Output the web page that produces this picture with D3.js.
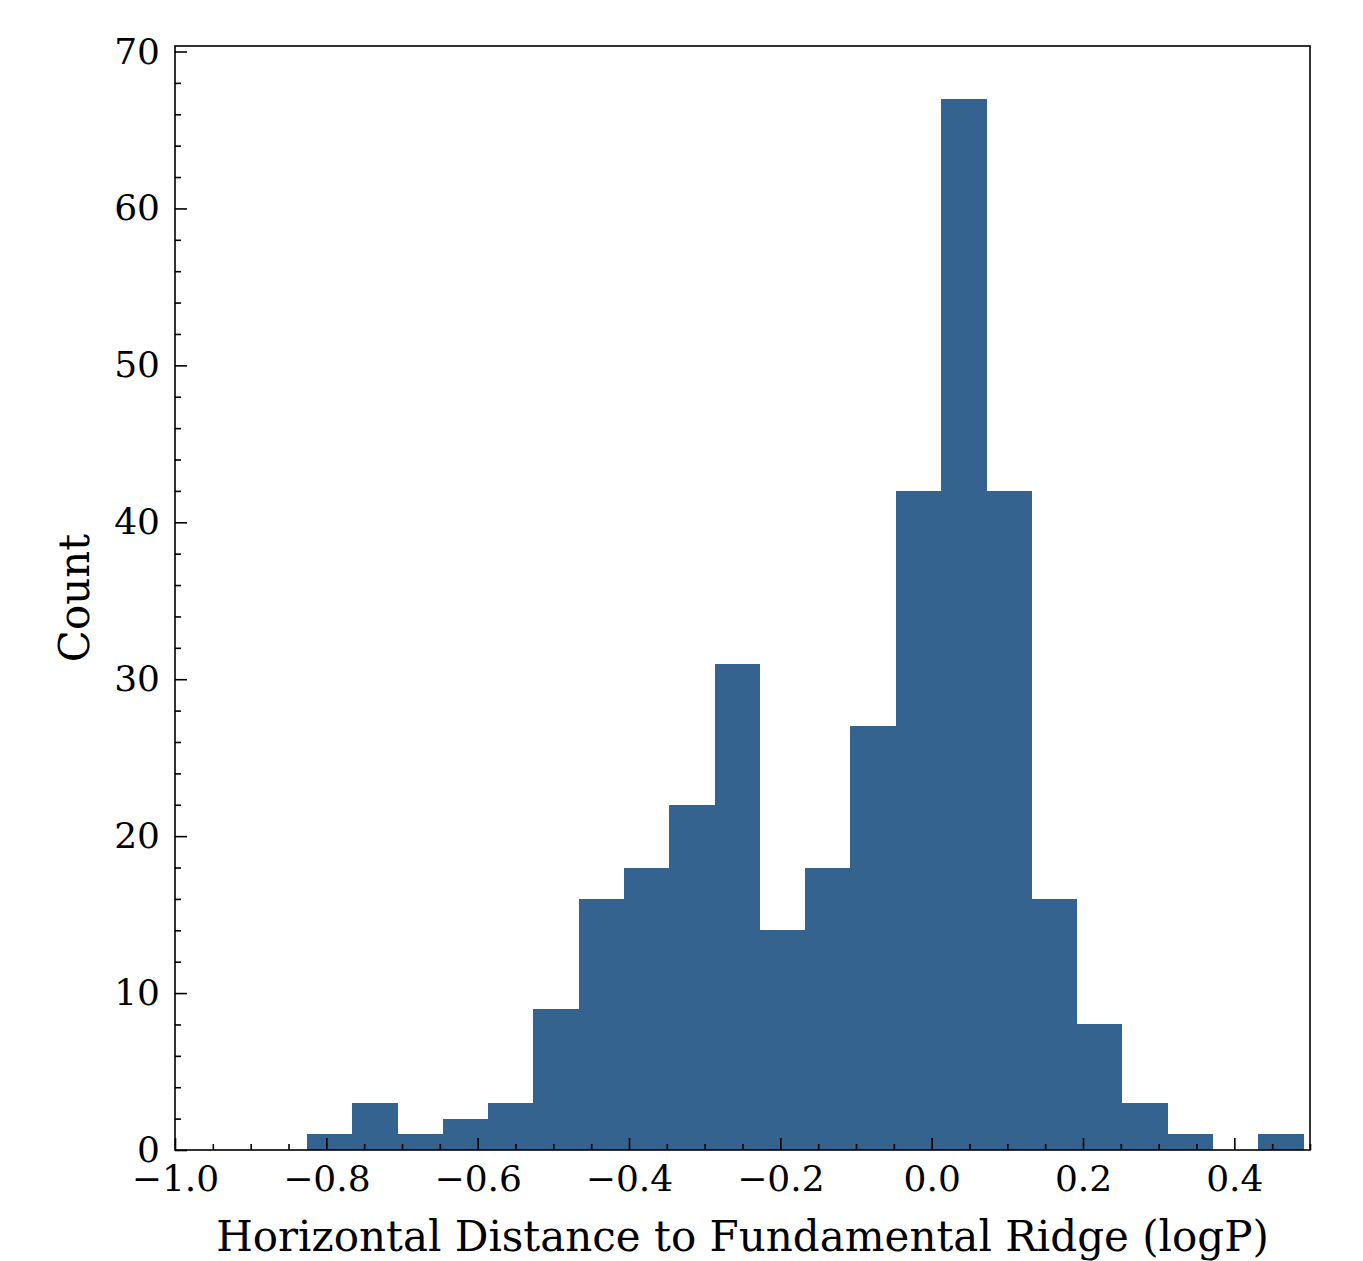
<!DOCTYPE html>
<html>
<head>
<meta charset="utf-8">
<script src="https://d3js.org/d3.v7.min.js"></script>
<style>
  body { margin: 0; background: #fff; }
  text { font-family: "DejaVu Serif", serif; fill: #000; }
</style>
</head>
<body>
<svg id="chart" width="1363" height="1261"></svg>
<script>
// histogram bins (left edge) and counts
const binStart = -0.8254;
const binWidth = 0.05983;
const counts = [1, 3, 1, 2, 3, 9, 16, 18, 22, 31, 14, 18, 27, 42, 67, 42, 16, 8, 3, 1, 0, 1];
const xTicks = [-1.0, -0.8, -0.6, -0.4, -0.2, 0.0, 0.2, 0.4];
const yTicks = [0, 10, 20, 30, 40, 50, 60, 70];

const svg = d3.select("#chart");
const margin = {left: 175, top: 46, right: 53, bottom: 111};
const W = 1363, H = 1261;

const x = d3.scaleLinear().domain([-1.0, 0.5]).range([margin.left, W - margin.right]);
const y = d3.scaleLinear().domain([0, 70.35]).range([H - margin.bottom, margin.top]);

const bins = counts.map((c, i) => ({x0: binStart + i * binWidth, x1: binStart + (i + 1) * binWidth, n: c}));

svg.append("g").attr("shape-rendering", "crispEdges").selectAll("rect")
  .data(bins.filter(d => d.n > 0))
  .join("rect")
  .attr("x", d => x(d.x0))
  .attr("width", d => x(d.x1) - x(d.x0) + 0.5)
  .attr("y", d => y(d.n))
  .attr("height", d => y(0) - y(d.n))
  .attr("fill", "#34638f");

// minor ticks
const xMinor = d3.range(-1.0, 0.5001, 0.05).filter(v => Math.abs(Math.round(v * 5) - v * 5) > 1e-6);
const yMinor = d3.range(0, 70.01, 2).filter(v => v % 10 !== 0);

const xAxis = d3.axisBottom(x).tickValues(xTicks).tickSize(-12).tickPadding(15)
  .tickFormat(d => d3.format(".1f")(d).replace("-", "\u2212"));
const yAxis = d3.axisLeft(y).tickValues(yTicks).tickSize(-12).tickPadding(15);

const gx = svg.append("g").attr("transform", `translate(0,${y(0)})`).call(xAxis);
const gy = svg.append("g").attr("transform", `translate(${margin.left},0)`).call(yAxis);

svg.append("g").attr("transform", `translate(0,${y(0)})`)
  .call(d3.axisBottom(x).tickValues(xMinor).tickSize(-6).tickFormat(""));
svg.append("g").attr("transform", `translate(${margin.left},0)`)
  .call(d3.axisLeft(y).tickValues(yMinor).tickSize(-6).tickFormat(""));

svg.selectAll(".domain").remove();
svg.selectAll(".tick line").attr("stroke", "#000").attr("stroke-width", 1.6);
gx.selectAll("text").style("font-size", "36px").attr("dy", "0.71em");
gy.selectAll("text").style("font-size", "36px");

// frame
svg.append("rect")
  .attr("x", margin.left).attr("y", margin.top)
  .attr("width", W - margin.right - margin.left)
  .attr("height", H - margin.bottom - margin.top)
  .attr("fill", "none").attr("stroke", "#000").attr("stroke-width", 1.6);

svg.append("text")
  .attr("x", (margin.left + W - margin.right) / 2)
  .attr("y", 1251)
  .attr("text-anchor", "middle")
  .style("font-size", "42px")
  .text("Horizontal Distance to Fundamental Ridge (logP)");

svg.append("text")
  .attr("transform", `translate(89,${(margin.top + H - margin.bottom) / 2}) rotate(-90)`)
  .attr("text-anchor", "middle")
  .style("font-size", "42px")
  .text("Count");
</script>
</body>
</html>
